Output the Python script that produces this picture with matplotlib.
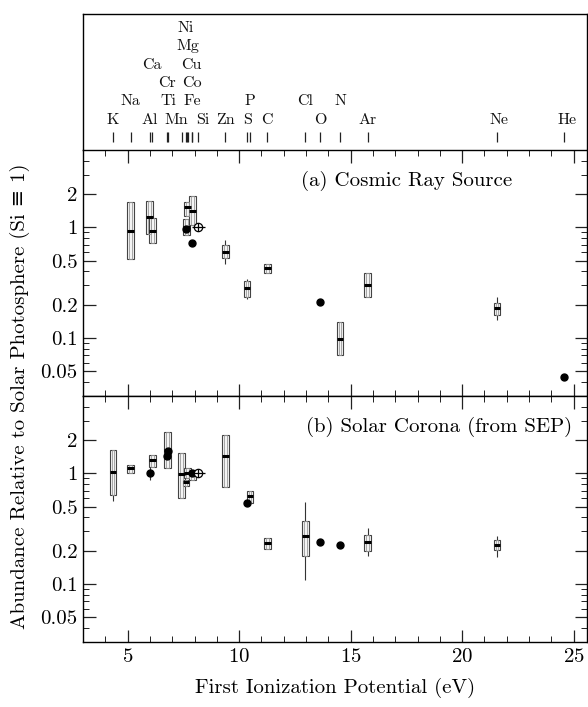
import numpy as np
import matplotlib
matplotlib.use("Agg")
import matplotlib.pyplot as plt
from matplotlib.ticker import FixedLocator, FixedFormatter, MultipleLocator, LogLocator, NullFormatter

plt.rcParams['font.family'] = ['cmr10', 'DejaVu Serif']
plt.rcParams['axes.formatter.use_mathtext'] = True

# elements and their first ionization potentials (eV)
elements = ['K', 'Na', 'Al', 'Ca', 'Cr', 'Ti', 'Mn', 'Ni', 'Mg', 'Cu', 'Co', 'Fe',
            'Si', 'Zn', 'S', 'P', 'C', 'Cl', 'O', 'N', 'Ar', 'Ne', 'He']
fip = [4.34, 5.14, 5.99, 6.11, 6.77, 6.83, 7.43, 7.64, 7.65, 7.73, 7.88, 7.90,
       8.15, 9.39, 10.36, 10.49, 11.26, 12.97, 13.62, 14.53, 15.76, 21.56, 24.59]

# (a) cosmic ray source: boxes (x, centre, low, high)
a_box_x = [5.14, 5.99, 6.11, 7.64, 7.70, 7.90, 9.39, 10.36, 11.26, 14.53, 15.76, 21.56]
a_box_mid = [0.93, 1.23, 0.93, 1.00, 1.53, 1.40, 0.595, 0.282, 0.427, 0.099, 0.30, 0.187]
a_box_lo = [0.52, 0.88, 0.72, 0.85, 1.28, 1.05, 0.53, 0.237, 0.39, 0.071, 0.237, 0.162]
a_box_hi = [1.68, 1.74, 1.21, 1.18, 1.70, 1.91, 0.69, 0.328, 0.464, 0.139, 0.385, 0.209]
# whiskers
a_err_x = [9.39, 10.36, 21.56]
a_err_lo = [0.47, 0.225, 0.147]
a_err_hi = [0.77, 0.345, 0.237]
# filled points
a_pt_x = [7.64, 7.90, 13.62, 24.59]
a_pt_y = [0.97, 0.72, 0.213, 0.0444]

# (b) solar corona (from SEP)
b_box_x = [4.34, 5.14, 6.11, 6.80, 7.43, 7.62, 7.70, 7.90, 9.39, 10.49, 11.26, 12.97, 15.76, 21.56]
b_box_mid = [1.03, 1.11, 1.32, 1.62, 0.99, 0.83, 1.00, 1.00, 1.43, 0.624, 0.234, 0.272, 0.242, 0.226]
b_box_lo = [0.64, 1.00, 1.15, 1.13, 0.60, 0.77, 0.90, 0.88, 0.76, 0.544, 0.207, 0.178, 0.201, 0.203]
b_box_hi = [1.62, 1.19, 1.46, 2.37, 1.53, 0.88, 1.12, 1.08, 2.20, 0.697, 0.260, 0.372, 0.279, 0.250]
b_err_x = [4.34, 5.99, 12.97, 15.76, 21.56]
b_err_lo = [0.56, 0.87, 0.109, 0.178, 0.175]
b_err_hi = [1.62, 1.15, 0.555, 0.320, 0.270]
b_pt_x = [5.99, 6.77, 6.83, 7.88, 10.36, 13.62, 14.53]
b_pt_y = [1.00, 1.45, 1.60, 1.00, 0.544, 0.242, 0.224]

si_x = 8.15
si_y = 1.0

yticks = [0.05, 0.1, 0.2, 0.5, 1, 2]
ytick_labels = ['0.05', '0.1', '0.2', '0.5', '1', '2']

fig = plt.figure(figsize=(5.88, 7.07), dpi=100)
W, H = 588.0, 707.0
left = 83 / W
width = 504 / W
xlim = (3.0, 3.0 + 504 / 22.3)

ax_top = fig.add_axes([left, 1 - 150 / H, width, 136 / H])
ax_a = fig.add_axes([left, 1 - 396 / H, width, 246 / H])
ax_b = fig.add_axes([left, 1 - 642 / H, width, 246 / H])

# top strip with element names
ax_top.set_xlim(*xlim)
ax_top.set_ylim(0, 1)
ax_top.set_xticks([])
ax_top.set_yticks([])
ax_top.spines['bottom'].set_visible(False)
for s in ['top', 'left', 'right']:
    ax_top.spines[s].set_linewidth(1.0)
ax_top.vlines(fip, 0.06, 0.13, color='#222', lw=0.9)

rows = {'K': 1, 'Na': 2, 'Al': 1, 'Ca': 4, 'Cr': 3, 'Ti': 2, 'Mn': 1, 'Ni': 6,
        'Mg': 5, 'Cu': 4, 'Co': 3, 'Fe': 2, 'Si': 1, 'Zn': 1, 'S': 1, 'P': 2,
        'C': 1, 'Cl': 2, 'O': 1, 'N': 2, 'Ar': 1, 'Ne': 1, 'He': 1}
shift = {'Mn': -0.23, 'Si': 0.24, 'Mg': 0.07, 'Co': 0.02, 'Ni': -0.02, 'Cu': 0.14,
         'K': -0.03, 'He': 0.1, 'Ne': 0.08}
row_y = [0.221, 0.36, 0.493, 0.625, 0.765, 0.897]
for el, x in zip(elements, fip):
    ax_top.text(x + shift.get(el, 0), row_y[rows[el] - 1], el, ha='center',
                va='center', fontsize=11.5, color='#111')


def draw_panel(ax, bx, bmid, blo, bhi, ex, elo, ehi, px, py, title, tx):
    ax.set_yscale('log')
    ax.set_xlim(*xlim)
    ax.set_ylim(0.03, 5)
    bx = np.array(bx)
    blo = np.array(blo)
    bhi = np.array(bhi)
    ax.vlines(ex, elo, ehi, color='#333', lw=0.8, zorder=2)
    ax.bar(bx, bhi - blo, bottom=blo, width=0.3, facecolor='#f4f4f4',
           edgecolor='#444', lw=0.8, zorder=3)
    ax.bar(bx, bhi - blo, bottom=blo, width=0.12, fill=False,
           edgecolor='#9a9a9a', lw=0.6, zorder=3)
    ax.hlines(bmid, bx - 0.15, bx + 0.15, color='k', lw=2.2, zorder=4)
    ax.plot(px, py, 'o', color='k', ms=5, zorder=5)
    ax.hlines(si_y, si_x - 0.25, si_x + 0.3, color='k', lw=0.9, zorder=5)
    ax.plot([si_x], [si_y], 'o', mfc='white', mec='k', ms=6, mew=0.9, zorder=6)
    ax.plot([si_x], [si_y], '+', color='k', ms=6, mew=0.9, zorder=7)
    ax.yaxis.set_major_locator(FixedLocator(yticks))
    ax.yaxis.set_major_formatter(FixedFormatter(ytick_labels))
    ax.yaxis.set_minor_locator(LogLocator(base=10, subs=np.arange(1, 10)))
    ax.yaxis.set_minor_formatter(NullFormatter())
    ax.xaxis.set_major_locator(MultipleLocator(5))
    ax.xaxis.set_minor_locator(MultipleLocator(1))
    ax.tick_params(which='both', direction='in', top=True, right=True,
                   labelsize=15, color='#222')
    ax.tick_params(which='major', length=9, width=0.9, pad=4)
    ax.tick_params(which='minor', length=4, width=0.7)
    for s in ax.spines.values():
        s.set_linewidth(1.0)
    ax.text(tx, 0.875, title, transform=ax.transAxes, ha='right', va='center',
            fontsize=15)


draw_panel(ax_a, a_box_x, a_box_mid, a_box_lo, a_box_hi, a_err_x, a_err_lo,
           a_err_hi, a_pt_x, a_pt_y, '(a) Cosmic Ray Source', 0.852)
draw_panel(ax_b, b_box_x, b_box_mid, b_box_lo, b_box_hi, b_err_x, b_err_lo,
           b_err_hi, b_pt_x, b_pt_y, '(b) Solar Corona (from SEP)', 0.97)
ax_a.tick_params(axis='x', labelbottom=False)

fig.text(335 / W, 1 - 688 / H, 'First Ionization Potential (eV)', ha='center',
         va='center', fontsize=15)
fig.text(20 / W, 1 - 396 / H, 'Abundance Relative to Solar Photosphere (Si \u2261 1)',
         rotation=90, ha='center', va='center', fontsize=15)

fig.savefig('out.png', dpi=100)
